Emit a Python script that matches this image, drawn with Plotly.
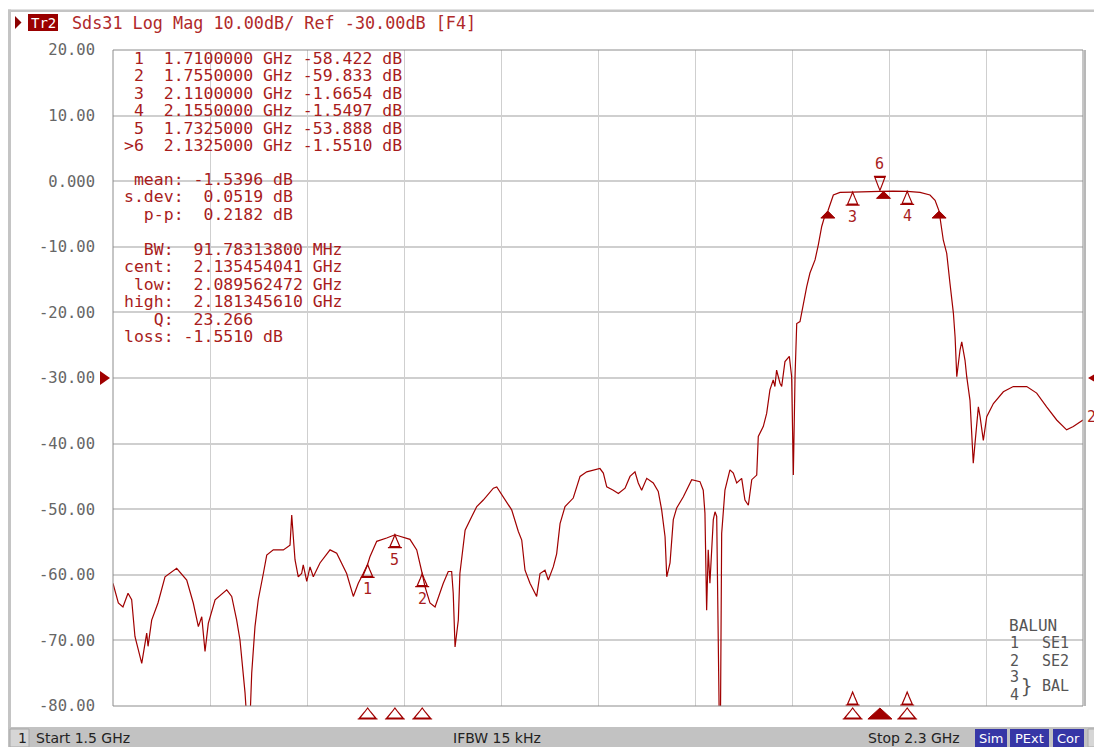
import plotly.graph_objects as go

# ---------------- data ----------------
freq_ghz = [
    1.5000, 1.5044, 1.5082, 1.5124, 1.5154, 1.5181, 1.5237, 1.5278, 1.5289, 1.5319,
    1.5371, 1.5429, 1.5525, 1.5608, 1.5662, 1.5704, 1.5732, 1.5759, 1.5786, 1.5842,
    1.5938, 1.5979, 1.6020, 1.6047, 1.6089, 1.6103, 1.6130, 1.6144, 1.6171, 1.6198,
    1.6240, 1.6268, 1.6322, 1.6405, 1.6460, 1.6474, 1.6487, 1.6501, 1.6528, 1.6556,
    1.6569, 1.6598, 1.6625, 1.6652, 1.6707, 1.6790, 1.6845, 1.6927, 1.6982, 1.7023,
    1.7064, 1.7100, 1.7120, 1.7175, 1.7257, 1.7325, 1.7449, 1.7505, 1.7550, 1.7573,
    1.7614, 1.7656, 1.7724, 1.7765, 1.7793, 1.7806, 1.7821, 1.7848, 1.7861, 1.7890,
    1.7904, 1.7959, 1.8000, 1.8054, 1.8137, 1.8165, 1.8233, 1.8288, 1.8343, 1.8371,
    1.8398, 1.8439, 1.8494, 1.8522, 1.8563, 1.8590, 1.8631, 1.8659, 1.8687, 1.8728,
    1.8796, 1.8852, 1.8907, 1.9016, 1.9044, 1.9072, 1.9126, 1.9168, 1.9223, 1.9264,
    1.9305, 1.9332, 1.9360, 1.9402, 1.9456, 1.9497, 1.9525, 1.9553, 1.9567, 1.9594,
    1.9621, 1.9649, 1.9704, 1.9773, 1.9841, 1.9868, 1.9882, 1.9896, 1.9909, 1.9923,
    1.9951, 1.9965, 1.9979, 1.9992, 2.0000, 2.0010, 2.0020, 2.0047, 2.0088, 2.0116,
    2.0144, 2.0185, 2.0212, 2.0240, 2.0268, 2.0309, 2.0322, 2.0363, 2.0391, 2.0418,
    2.0445, 2.0459, 2.0473, 2.0501, 2.0515, 2.0542, 2.0578, 2.0597, 2.0611, 2.0625,
    2.0639, 2.0666, 2.0693, 2.0721, 2.0748, 2.0790, 2.0817, 2.0845, 2.0872, 2.0896,
    2.0941, 2.0996, 2.1100, 2.1210, 2.1325, 2.1433, 2.1550, 2.1656, 2.1738, 2.1780,
    2.1813, 2.1848, 2.1876, 2.1903, 2.1931, 2.1945, 2.1959, 2.1986, 2.2000, 2.2027,
    2.2041, 2.2068, 2.2095, 2.2109, 2.2137, 2.2151, 2.2178, 2.2206, 2.2261, 2.2343,
    2.2425, 2.2536, 2.2618, 2.2700, 2.2783, 2.2865, 2.2920, 2.3000,
]
s31_db = [
    -61.3, -64.3, -64.9, -62.8, -63.8, -69.4, -73.5, -68.9, -70.9, -66.9,
    -64.3, -60.3, -59.0, -60.8, -64.3, -67.9, -66.4, -71.7, -67.4, -63.8,
    -62.3, -63.3, -66.9, -69.9, -78.0, -82.0, -82.0, -75.0, -67.9, -63.8,
    -59.8, -57.0, -56.2, -56.2, -55.5, -50.9, -54.2, -57.7, -60.3, -59.8,
    -58.5, -61.0, -58.8, -60.3, -58.2, -56.2, -56.7, -59.8, -63.3, -61.3,
    -59.8, -58.4, -57.2, -54.9, -54.4, -53.9, -54.6, -56.2, -59.8, -61.8,
    -64.3, -64.9, -61.3, -59.5, -59.5, -62.8, -71.0, -66.9, -59.8, -55.7,
    -53.2, -51.1, -49.6, -48.6, -46.8, -46.6, -48.6, -50.1, -53.4, -54.7,
    -59.3, -61.3, -63.3, -59.8, -59.3, -60.8, -58.8, -56.8, -52.2, -49.6,
    -48.3, -45.0, -44.3, -43.8, -44.5, -46.6, -47.1, -47.6, -46.8, -45.0,
    -44.3, -46.0, -47.1, -45.3, -46.0, -47.3, -50.1, -54.2, -60.3, -58.2,
    -51.6, -49.8, -48.1, -45.5, -45.8, -47.1, -50.6, -65.4, -56.2, -61.3,
    -51.6, -50.4, -51.1, -66.0, -82.0, -82.0, -53.7, -47.1, -44.0, -44.5,
    -46.0, -45.3, -48.6, -49.4, -45.5, -44.8, -38.9, -37.4, -35.4, -31.8,
    -30.3, -31.3, -28.8, -30.8, -31.3, -27.5, -26.7, -29.8, -44.8, -29.8,
    -21.7, -21.4, -18.6, -16.1, -14.0, -12.0, -9.7, -6.9, -5.2, -4.55,
    -2.1, -1.7, -1.67, -1.58, -1.55, -1.52, -1.55, -1.70, -2.1, -2.9,
    -4.55, -9.0, -11.0, -15.6, -20.1, -23.7, -29.8, -25.7, -24.5, -27.3,
    -29.8, -33.4, -43.0, -40.0, -34.4, -35.9, -39.5, -35.9, -33.9, -32.1,
    -31.3, -31.3, -32.3, -34.4, -36.4, -37.9, -37.4, -36.4,
]

marker_ids = ["1", "2", "3", "4", "5", "6"]
marker_freq = [1.7100, 1.7550, 2.1100, 2.1550, 1.7325, 2.1325]
marker_db = [-58.422, -59.833, -1.6654, -1.5497, -53.888, -1.5510]
active_marker = "6"

stats_mean, stats_sdev, stats_pp = -1.5396, 0.0519, 0.2182
bw_mhz = 91.78313800
bw_cent, bw_low, bw_high = 2.135454041, 2.089562472, 2.181345610
bw_q, bw_loss = 23.266, -1.5510

start_ghz, stop_ghz = 1.5, 2.3
ref_db, scale_db = -30.0, 10.0
y_top, y_bottom = 20.0, -80.0
ytick_vals = [20, 10, 0, -10, -20, -30, -40, -50, -60, -70, -80]
ytick_text = ["20.00", "10.00", "0.000", "-10.00", "-20.00", "-30.00",
              "-40.00", "-50.00", "-60.00", "-70.00", "-80.00"]
header_text = "Sds31 Log Mag 10.00dB/ Ref -30.00dB [F4]"
ifbw_text = "IFBW 15 kHz"
balun_rows = [("1", "SE1"), ("2", "SE2")]

# ---------------- styling ----------------
# reference-picture pixel geometry (page has an 8 px body margin)
PAGE_OFF = 8
W_REF, H_REF = 1102, 747
L, R, T, B = 113, 1083, 50, 706
RED = "#a00000"
TXT_RED = "#a81c1c"
GRAY_TXT = "#666666"
MONO = "DejaVu Sans Mono"
SANS = "DejaVu Sans"
NB = "\u00a0"


def px(x):
    return (x - L) / (R - L)


def py(y):
    return (B - y) / (B - T)


def nb(s):
    return s.replace(" ", NB)


def poly(points, close=True):
    s = "M " + " L ".join(f"{a},{b}" for a, b in points)
    return s + (" Z" if close else "")


fig = go.Figure()
fig.add_trace(go.Scatter(x=freq_ghz, y=s31_db, mode="lines",
                         line=dict(color=RED, width=1.2), hoverinfo="skip"))

shapes = []
annotations = []

# window frame
shapes.append(dict(type="rect", xref="paper", yref="paper", x0=px(8), x1=px(W_REF), y0=py(12), y1=py(9.5),
                   fillcolor="#c4c4c4", line=dict(width=0), layer="below"))
shapes.append(dict(type="rect", xref="paper", yref="paper", x0=px(8), x1=px(11), y0=py(727), y1=py(9.5),
                   fillcolor="#c4c4c4", line=dict(width=0), layer="below"))
# plot frame
shapes.append(dict(type="rect", xref="paper", yref="paper", x0=0, x1=1, y0=0, y1=1,
                   line=dict(color="#8c8c8c", width=1)))
shapes.append(dict(type="line", xref="paper", yref="paper", x0=px(1085), x1=px(1085), y0=0, y1=1,
                   line=dict(color="#b8b8b8", width=2)))

# header
shapes.append(dict(type="path", xref="paper", yref="paper",
                   path=poly([(px(15), py(16)), (px(21.5), py(22.5)), (px(15), py(29))]),
                   fillcolor="#8b0000", line=dict(width=0)))
shapes.append(dict(type="rect", xref="paper", yref="paper", x0=px(28), x1=px(58), y0=py(31), y1=py(14),
                   fillcolor="#990000", line=dict(width=0)))
annotations.append(dict(xref="paper", yref="paper", x=px(43), y=py(23), text="Tr2", showarrow=False,
                        xanchor="center", yanchor="middle", font=dict(family=MONO, size=14, color="white")))
annotations.append(dict(xref="paper", yref="paper", x=px(70), y=py(23), text=nb(header_text), showarrow=False,
                        xanchor="left", yanchor="middle", font=dict(family=MONO, size=16.8, color="#b02a2a")))

# marker table
TABLE_FONT = 16.5
table_rows = [58, 75.5, 93, 110.5, 128, 145.5]
for i, (mid, f, v) in enumerate(zip(marker_ids, marker_freq, marker_db)):
    pre = ">" if mid == active_marker else " "
    line = f"{pre}{mid}  {f:.7f} GHz {v:#.5g} dB"
    annotations.append(dict(xref="paper", yref="paper", x=px(122), y=py(table_rows[i]), text=nb(line),
                            showarrow=False, xanchor="left", yanchor="middle",
                            font=dict(family=MONO, size=TABLE_FONT, color=TXT_RED)))

stat_lines = [
    (179, f" mean: {stats_mean:.4f} dB"),
    (196.5, f"s.dev:  {stats_sdev:.4f} dB"),
    (214, f"  p-p:  {stats_pp:.4f} dB"),
    (249, f"  BW:  {bw_mhz:.8f} MHz"),
    (266.5, f"cent:  {bw_cent:.9f} GHz"),
    (284, f" low:  {bw_low:.9f} GHz"),
    (301.5, f"high:  {bw_high:.9f} GHz"),
    (319, f"   Q:  {bw_q:.3f}"),
    (336.5, f"loss: {bw_loss:.4f} dB"),
]
for yy, s in stat_lines:
    annotations.append(dict(xref="paper", yref="paper", x=px(122), y=py(yy), text=nb(s),
                            showarrow=False, xanchor="left", yanchor="middle",
                            font=dict(family=MONO, size=TABLE_FONT, color=TXT_RED)))

# markers on trace
open_up = poly([(0, 0), (-2, -5), (-5, -12), (5, -12), (2, -5)]) + " M -7,-13 L 7,-13"
for mid, f, v in zip(marker_ids, marker_freq, marker_db):
    if mid == active_marker:
        shapes.append(dict(type="path", xref="x", yref="y", xsizemode="pixel", ysizemode="pixel",
                           xanchor=f, yanchor=v,
                           path=poly([(0, 1), (-2, 6), (-5, 14), (5, 14), (2, 6)]) + " M -6,15 L 6,15",
                           line=dict(color=RED, width=1.2), fillcolor="rgba(0,0,0,0)"))
        annotations.append(dict(x=f, y=v, text=mid, showarrow=False, yshift=27, xanchor="center",
                                yanchor="middle", font=dict(family=MONO, size=15, color=TXT_RED)))
    else:
        shapes.append(dict(type="path", xref="x", yref="y", xsizemode="pixel", ysizemode="pixel",
                           xanchor=f, yanchor=v, path=open_up,
                           line=dict(color=RED, width=1.2), fillcolor="rgba(0,0,0,0)"))
        annotations.append(dict(x=f, y=v, text=mid, showarrow=False, yshift=-25, xanchor="center",
                                yanchor="middle", font=dict(family=MONO, size=15, color=TXT_RED)))

# bandwidth search markers (filled)
bw_level = bw_loss - 3.0
for f, v in [(bw_low, bw_level), (bw_high, bw_level), (bw_cent, bw_loss)]:
    shapes.append(dict(type="path", xref="x", yref="y", xsizemode="pixel", ysizemode="pixel",
                       xanchor=f, yanchor=v, path=poly([(0, 0), (-7, -7), (7, -7)]),
                       line=dict(color=RED, width=1), fillcolor=RED))

# stimulus markers under the grid
for mid, f in zip(marker_ids, marker_freq):
    if mid == active_marker:
        shapes.append(dict(type="path", xref="x", yref="paper", xsizemode="pixel", ysizemode="pixel",
                           xanchor=f, yanchor=0, path=poly([(0, -2), (-12, -13), (12, -13)]),
                           line=dict(color=RED, width=1), fillcolor=RED))
    else:
        shapes.append(dict(type="path", xref="x", yref="paper", xsizemode="pixel", ysizemode="pixel",
                           xanchor=f, yanchor=0,
                           path=poly([(0, -2), (-3, -6), (-8, -12), (8, -12), (3, -6)]) + " M -10,-13 L 10,-13",
                           line=dict(color=RED, width=1.2), fillcolor="rgba(0,0,0,0)"))
        if mid in ("3", "4"):
            shapes.append(dict(type="path", xref="x", yref="paper", xsizemode="pixel", ysizemode="pixel",
                               xanchor=f, yanchor=0,
                               path=poly([(0, 14), (-2, 9), (-5, 2), (5, 2), (2, 9)]) + " M -7,1 L 7,1",
                               line=dict(color=RED, width=1.2), fillcolor="rgba(0,0,0,0)"))

# reference level triangles (paper-referenced so they are not clipped)
ref_frac = (ref_db - y_bottom) / (y_top - y_bottom)
shapes.append(dict(type="path", xref="paper", yref="paper", xsizemode="pixel", ysizemode="pixel",
                   xanchor=0, yanchor=ref_frac, path=poly([(-13, 7), (-3, 0), (-13, -7)]),
                   fillcolor=RED, line=dict(width=0)))
shapes.append(dict(type="path", xref="paper", yref="paper", xsizemode="pixel", ysizemode="pixel",
                   xanchor=1, yanchor=ref_frac, path=poly([(17, 7), (5, 0), (17, -7)]),
                   fillcolor=RED, line=dict(width=0)))

# trace id at end
annotations.append(dict(x=freq_ghz[-1], y=s31_db[-1], text="2", showarrow=False, xanchor="left",
                        xshift=2, yshift=3, yanchor="middle", font=dict(family=MONO, size=15, color=TXT_RED)))

# BALUN legend
annotations.append(dict(xref="paper", yref="paper", x=px(1007), y=py(625), text="BALUN", showarrow=False,
                        xanchor="left", yanchor="middle", font=dict(family=MONO, size=16, color="#555555")))
for k, (n, lab) in enumerate(balun_rows):
    yy = 643 + 18 * k
    annotations.append(dict(xref="paper", yref="paper", x=px(1008), y=py(yy), text=n, showarrow=False,
                            xanchor="left", yanchor="middle", font=dict(family=MONO, size=15, color="#555555")))
    annotations.append(dict(xref="paper", yref="paper", x=px(1040), y=py(yy), text=lab, showarrow=False,
                            xanchor="left", yanchor="middle", font=dict(family=MONO, size=15, color="#555555")))
for n, yy in (("3", 677), ("4", 695)):
    annotations.append(dict(xref="paper", yref="paper", x=px(1008), y=py(yy), text=n, showarrow=False,
                            xanchor="left", yanchor="middle", font=dict(family=MONO, size=15, color="#555555")))
annotations.append(dict(xref="paper", yref="paper", x=px(1019), y=py(686), text="}", showarrow=False,
                        xanchor="left", yanchor="middle", font=dict(family=MONO, size=19, color="#555555")))
annotations.append(dict(xref="paper", yref="paper", x=px(1040), y=py(686), text="BAL", showarrow=False,
                        xanchor="left", yanchor="middle", font=dict(family=MONO, size=15, color="#555555")))

# status bar
shapes.append(dict(type="rect", xref="paper", yref="paper", x0=px(0), x1=px(W_REF), y0=py(H_REF), y1=py(727),
                   fillcolor="#c2c2c2", line=dict(width=0)))
shapes.append(dict(type="rect", xref="paper", yref="paper", x0=px(10), x1=px(29), y0=py(H_REF), y1=py(729),
                   fillcolor="#d6d6d6", line=dict(color="#a8a8a8", width=1)))
shapes.append(dict(type="rect", xref="paper", yref="paper", x0=px(1088), x1=px(W_REF), y0=py(H_REF), y1=py(729),
                   fillcolor="#d6d6d6", line=dict(color="#a8a8a8", width=1)))
status_items = [(16, "1"), (34, f"Start {start_ghz:g} GHz"), (451, ifbw_text), (866, f"Stop {stop_ghz:g} GHz")]
for xx, s in status_items:
    annotations.append(dict(xref="paper", yref="paper", x=px(xx), y=py(737.5), text=nb(s), showarrow=False,
                            xanchor="left", yanchor="middle", font=dict(family=SANS, size=14, color="#222222")))
for x0, x1, s in [(975, 1007, "Sim"), (1010, 1049, "PExt"), (1053, 1084, "Cor")]:
    shapes.append(dict(type="rect", xref="paper", yref="paper", x0=px(x0), x1=px(x1), y0=py(H_REF), y1=py(729),
                       fillcolor="#3636a6", line=dict(width=0)))
    annotations.append(dict(xref="paper", yref="paper", x=px((x0 + x1) / 2), y=py(738), text=s,
                            showarrow=False, xanchor="center", yanchor="middle",
                            font=dict(family=SANS, size=13, color="white")))

FIG_W, FIG_H = W_REF - PAGE_OFF, H_REF - PAGE_OFF
fig.update_layout(
    width=FIG_W, height=FIG_H,
    margin=dict(l=L - PAGE_OFF, r=W_REF - R, t=T - PAGE_OFF, b=H_REF - B, pad=0),
    paper_bgcolor="white", plot_bgcolor="white",
    showlegend=False,
    shapes=shapes, annotations=annotations,
    xaxis=dict(range=[start_ghz, stop_ghz], tick0=start_ghz, dtick=(stop_ghz - start_ghz) / 10,
               showgrid=True, gridcolor="#cfcfcf", gridwidth=1, showticklabels=False, ticks="",
               zeroline=False, showline=False, fixedrange=True),
    yaxis=dict(range=[y_bottom, y_top], tickmode="array", tickvals=ytick_vals, ticktext=ytick_text,
               showgrid=True, gridcolor="#cfcfcf", gridwidth=1.5, ticks="", zeroline=False,
               showline=False, ticklabelstandoff=17,
               tickfont=dict(family=MONO, size=15.5, color=GRAY_TXT), fixedrange=True),
)

fig.write_html("out.html")
